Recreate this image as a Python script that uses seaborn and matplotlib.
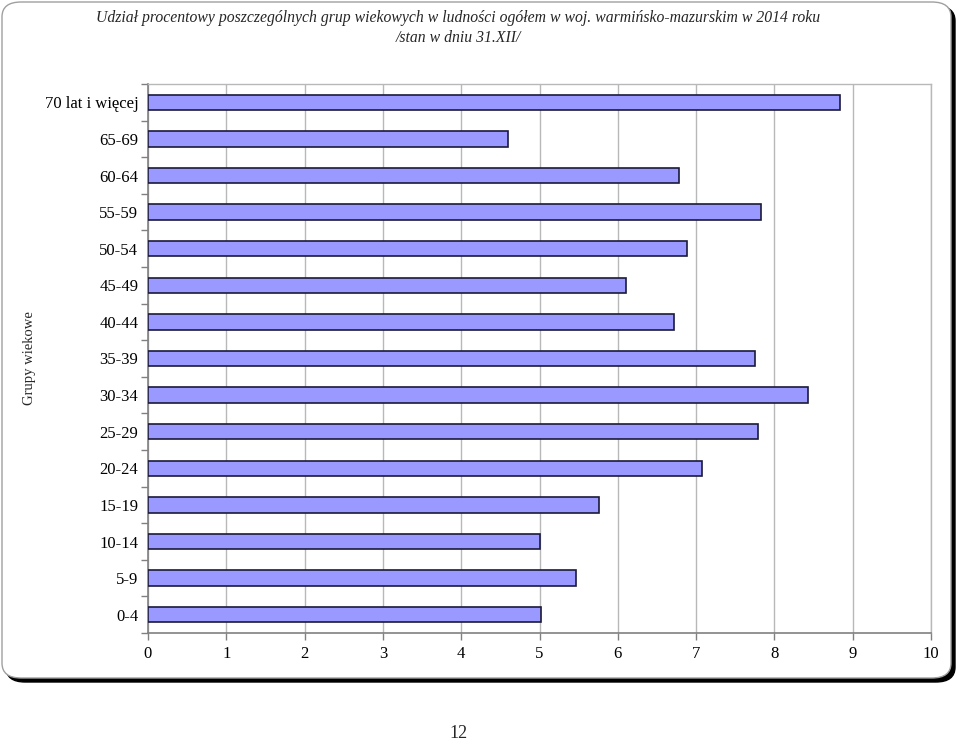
import matplotlib
matplotlib.use("Agg")
import matplotlib.pyplot as plt
import seaborn as sns
import pandas as pd
import numpy as np
from matplotlib.patches import FancyBboxPatch
from matplotlib.ticker import FixedLocator

categories = ["70 lat i więcej", "65-69", "60-64", "55-59", "50-54", "45-49", "40-44",
              "35-39", "30-34", "25-29", "20-24", "15-19", "10-14", "5-9", "0-4"]
values = [8.84, 4.60, 6.78, 7.83, 6.88, 6.10, 6.72, 7.75, 8.43, 7.79, 7.07, 5.76, 5.01, 5.46, 5.02]
x_ticks = list(range(0, 11))

title_line1 = "Udział procentowy poszczególnych grup wiekowych w ludności ogółem w woj. warmińsko-mazurskim w 2014 roku"
title_line2 = "/stan w dniu 31.XII/"
y_label = "Grupy wiekowe"
page_number = "12"

sns.set_theme(style="white")
plt.rcParams['font.family'] = ['Liberation Serif', 'DejaVu Serif']

df = pd.DataFrame({"grupa": categories, "udzial": values})

fig = plt.figure(figsize=(9.6, 7.43), dpi=100)

W, H = 960, 743
def fx(px): return px / W
def fy(py): return 1 - py / H
shadow = FancyBboxPatch((fx(6), fy(682)), fx(955 - 6), fy(6) - fy(682),
                        boxstyle="round,pad=0,rounding_size=0.02", transform=fig.transFigure,
                        facecolor="black", edgecolor="black", linewidth=1, zorder=0)
frame = FancyBboxPatch((fx(2), fy(678)), fx(951 - 2), fy(2) - fy(678),
                       boxstyle="round,pad=0,rounding_size=0.02", transform=fig.transFigure,
                       facecolor="white", edgecolor="#a0a0a0", linewidth=1, zorder=1)
fig.patches.extend([shadow, frame])

ax = fig.add_axes([148 / W, 1 - 633 / H, (931 - 148) / W, (633 - 84) / H])
ax.set_zorder(2)
ax.patch.set_alpha(0)

sns.barplot(data=df, x="udzial", y="grupa", order=categories, orient="h", ax=ax,
            color="#9999FF", saturation=1, width=0.42, edgecolor="#1a1a3a", linewidth=1.2, zorder=3)

ax.set_xlim(0, 10)
ax.set_ylim(len(categories) - 0.5, -0.5)
ax.xaxis.set_major_locator(FixedLocator(x_ticks))
ax.set_xticklabels([str(t) for t in x_ticks], fontsize=12, color="black")
ax.grid(axis="x", color="#b8b8b8", linewidth=1, zorder=0)
ax.set_axisbelow(True)

ax.tick_params(axis="y", which="major", length=0, labelsize=12, pad=7, colors="black")
ax.yaxis.set_minor_locator(FixedLocator(np.arange(-0.5, len(categories), 1.0)))
ax.tick_params(axis="y", which="minor", length=5, width=1, color="#808080", left=True)
ax.tick_params(axis="x", which="major", length=5, width=1, color="#808080", bottom=True, pad=4)

for s in ["left", "bottom"]:
    ax.spines[s].set_color("#808080")
    ax.spines[s].set_linewidth(1.2)
for s in ["top", "right"]:
    ax.spines[s].set_color("#b8b8b8")
    ax.spines[s].set_linewidth(1)

ax.set_xlabel("")
ax.set_ylabel("")

fig.text(fx(458), fy(18), title_line1, ha="center", va="center", fontsize=11.3, style="italic")
fig.text(fx(458), fy(38), title_line2, ha="center", va="center", fontsize=11.3, style="italic")
fig.text(fx(30), fy(358), y_label, ha="center", va="center", fontsize=10.5, rotation=90)
fig.text(fx(458), fy(733), page_number, ha="center", va="center", fontsize=13)

fig.savefig("out.png", dpi=100)
